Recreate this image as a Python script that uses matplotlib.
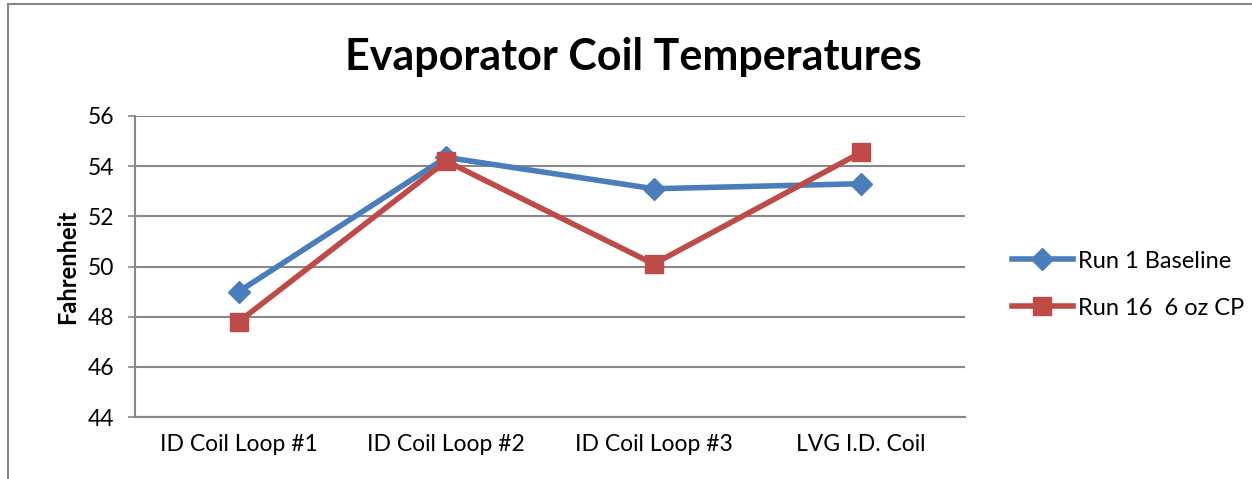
import matplotlib.pyplot as plt
from matplotlib.patches import Rectangle

categories = ["ID Coil Loop #1", "ID Coil Loop #2", "ID Coil Loop #3", "LVG I.D. Coil"]
run1_baseline = [49.0, 54.35, 53.1, 53.3]
run16_6oz = [47.8, 54.2, 50.1, 54.55]
yticks = [44, 46, 48, 50, 52, 54, 56]

plt.rcParams['font.family'] = ['Lato', 'DejaVu Sans']

W, H = 1252, 479
fig = plt.figure(figsize=(W / 100, H / 100), dpi=100)

# outer chart frame
fig.patches.append(Rectangle((8 / W, -0.05), 1.2, 1 - 4 / H + 0.05, transform=fig.transFigure,
                             fill=False, edgecolor='#888888', linewidth=1.5))

ax = fig.add_axes([135 / W, 1 - 417 / H, (965 - 135) / W, (417 - 116) / H])

x = range(len(categories))
ax.plot(x, run1_baseline, color='#4a7ebb', linewidth=4, marker='D', markersize=11,
        label='Run 1 Baseline')
ax.plot(x, run16_6oz, color='#be4b48', linewidth=4, marker='s', markersize=13,
        label='Run 16  6 oz CP')

ax.set_xlim(-0.5, len(categories) - 0.5)
ax.set_ylim(44, 56)
ax.set_yticks(yticks)
ax.set_xticks(list(x))
ax.set_xticklabels(categories, fontsize=16.5)
ax.tick_params(axis='y', labelsize=16.5, length=5, color='#888888', width=1.2, pad=10)
ax.tick_params(axis='x', length=0, pad=12)
ax.yaxis.grid(True, color='#888888', linewidth=1.5)
ax.set_axisbelow(True)
for side in ['top', 'right']:
    ax.spines[side].set_visible(False)
for side in ['left', 'bottom']:
    ax.spines[side].set_color('#888888')
    ax.spines[side].set_linewidth(1.5)

ax.set_ylabel('Fahrenheit', fontsize=17, fontweight='bold', labelpad=6)
fig.text(633 / W, 1 - 57 / H, 'Evaporator Coil Temperatures', fontsize=31, fontweight='bold',
         ha='center', va='center')

ax.legend(loc='center left', bbox_to_anchor=(1.045, 0.44), frameon=False, fontsize=17,
          handlelength=2.6, labelspacing=1.1, handletextpad=0.2, borderaxespad=0)

fig.savefig('out.png', dpi=100)
